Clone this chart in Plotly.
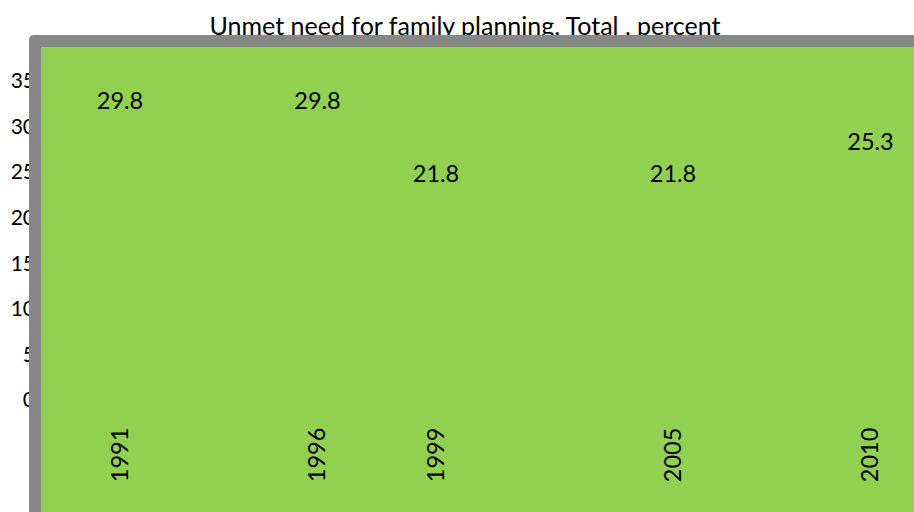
import plotly.graph_objects as go

years = [1991, 1996, 1999, 2005, 2010]
values = [29.8, 29.8, 21.8, 21.8, 25.3]
value_labels = ["29.8", "29.8", "21.8", "21.8", "25.3"]
year_labels = ["1991", "1996", "1999", "2005", "2010"]
y_ticks = [0, 5, 10, 15, 20, 25, 30, 35]
title_text = "Unmet need for family planning, Total , percent"

W, H = 914, 512
# plot area box in page pixels
L, R, T, B = 42, 914, 81, 400


def px(x):
    """page x pixel -> paper fraction"""
    return (x - L) / (R - L)


def py(y):
    """page y pixel -> paper fraction"""
    return (B - y) / (B - T)


FONT = "Lato"
GREEN = "#92D050"
GREY = "#878787"

fig = go.Figure()
fig.add_trace(go.Scatter(
    x=years, y=values, mode="markers+text", text=value_labels,
    textposition="top center",
    marker=dict(size=20, color="rgba(0,0,0,0)"),
    textfont=dict(family=FONT, size=23.5, color="black"),
    hoverinfo="skip", showlegend=False, cliponaxis=False,
))

shapes = [
    # green chart area
    dict(type="rect", xref="paper", yref="paper", layer="below",
         x0=px(41.5), x1=px(940), y0=py(540), y1=py(47),
         fillcolor=GREEN, line=dict(width=0)),
    # title holder (drawn beneath the border)
    dict(type="rect", xref="paper", yref="paper", layer="below",
         x0=px(16), x1=px(914), y0=py(40), y1=py(10),
         fillcolor="rgba(0,0,0,0)", line=dict(width=0),
         label=dict(text=title_text, textposition="middle center",
                    font=dict(family=FONT, size=25, color="black"))),
    # grey rounded border
    dict(type="path", xref="paper", yref="paper", layer="above",
         path=(f"M {px(29)},{py(540)} L {px(29)},{py(40)} "
               f"Q {px(29)},{py(35)} {px(34)},{py(35)} "
               f"L {px(940)},{py(35)} L {px(940)},{py(47)} "
               f"L {px(41.5)},{py(47)} L {px(41.5)},{py(540)} Z"),
         fillcolor=GREY, line=dict(width=0)),
]

xmin = 1991 - (120 - L) / 39.5
xmax = 1991 + (R - 120) / 39.5

fig.update_layout(
    width=W, height=H, autosize=False,
    margin=dict(l=L, r=W - R, t=T, b=H - B, pad=0),
    paper_bgcolor="white", plot_bgcolor="rgba(0,0,0,0)",
    shapes=shapes,
    xaxis=dict(range=[xmin, xmax], tickvals=years, ticktext=year_labels,
               tickangle=-90, ticks="", showgrid=False, zeroline=False,
               showline=False, ticklabelstandoff=22,
               tickfont=dict(family=FONT, size=23.5, color="black")),
    yaxis=dict(range=[0, 35], tickvals=y_ticks, ticks="", showgrid=False,
               zeroline=False, showline=False, ticklabelstandoff=6,
               tickfont=dict(family=FONT, size=21, color="black")),
    showlegend=False,
)

fig.write_html(
    "out.html",
    config={"displayModeBar": False},
    post_script="document.body.style.margin='0';document.body.style.overflow='hidden';",
)
